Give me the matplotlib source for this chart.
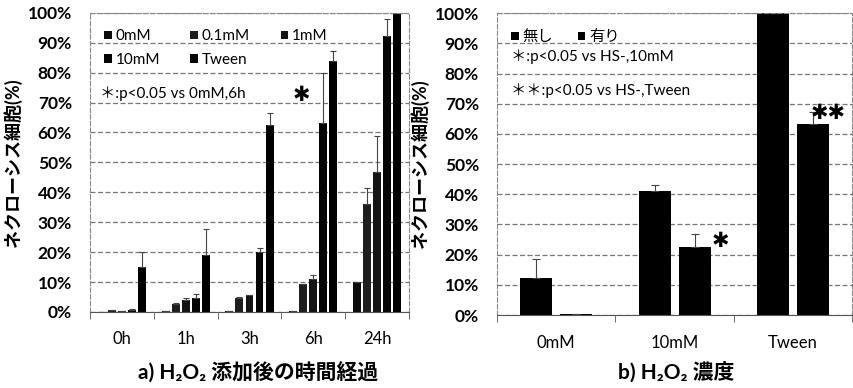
import numpy as np
import matplotlib.pyplot as plt

plt.rcParams['font.family'] = ['Lato', 'Noto Sans CJK JP', 'DejaVu Sans']

# a) time course
times = ['0h', '1h', '3h', '6h', '24h']
doses = ['0mM', '0.1mM', '1mM', '10mM', 'Tween']
vals_a = [
    [0.0, 0.2, 0.3, 0.3, 10.1],     # 0mM
    [0.5, 2.8, 4.8, 9.4, 36.1],     # 0.1mM
    [0.3, 4.0, 5.5, 11.1, 46.9],    # 1mM
    [0.8, 4.7, 20.0, 63.0, 92.3],   # 10mM
    [15.0, 19.0, 62.5, 84.0, 100.0],  # Tween
]
err_a = [
    [0.0, 0.0, 0.0, 0.0, 0.0],
    [0.3, 0.3, 0.3, 0.0, 5.3],
    [0.0, 0.8, 0.0, 1.3, 12.0],
    [0.2, 1.3, 1.5, 16.8, 5.6],
    [5.0, 8.8, 4.0, 3.3, 0.0],
]
colors_a = ['#0c0c0c', '#1e1e1e', '#141414', '#050505', '#000000']

# b) H2O2 concentration
concs = ['0mM', '10mM', 'Tween']
groups_b = ['無し', '有り']
vals_b = [[12.3, 41.0, 100.0], [0.3, 22.7, 63.3]]
err_b = [[6.4, 2.2, 0.0], [0.0, 4.3, 4.0]]

fig = plt.figure(figsize=(8.54, 3.88), dpi=100)
ax1 = fig.add_axes([0.1054, 0.196, 0.3735, 0.771])
ax2 = fig.add_axes([0.582, 0.188, 0.416, 0.778])


def style(ax, n):
    ax.set_ylim(0, 100)
    ax.set_xlim(-0.5, n - 0.5)
    ax.set_yticks(np.arange(0, 101, 10))
    ax.set_yticklabels([f'{v}%' for v in range(0, 101, 10)], fontsize=12.5, fontweight='bold')
    ax.yaxis.grid(True, linestyle=(0, (4, 2)), color='#777777', linewidth=0.9)
    ax.set_axisbelow(True)
    for s in ['left', 'top', 'right']:
        ax.spines[s].set_linestyle((0, (4, 2)))
        ax.spines[s].set_color('#888888')
        ax.spines[s].set_linewidth(0.8)
    ax.spines['bottom'].set_color('#555555')
    ax.tick_params(axis='y', length=0, pad=13)
    ax.set_xticks(np.arange(n))
    ax.set_xticks(np.arange(n + 1) - 0.5, minor=True)
    ax.tick_params(axis='x', which='major', length=0, pad=14, labelsize=12)
    ax.tick_params(axis='x', which='minor', length=5, color='#555555')
    ax.set_ylabel('ネクローシス細胞(%)', fontsize=13, fontweight='bold', labelpad=4)


x = np.arange(len(times))
step = 0.157
bars = []
for i, d in enumerate(doses):
    b = ax1.bar(x + (i - 2) * step, vals_a[i], width=0.125, color=colors_a[i], label=d,
                yerr=[np.zeros(len(times)), err_a[i]], capsize=2.5,
                error_kw=dict(ecolor='#444444', elinewidth=0.8, capthick=0.8))
    bars.append(b)
style(ax1, len(times))
ax1.set_xticklabels(times)
order = [0, 3, 1, 4, 2]  # row-wise legend: 0mM 0.1mM 1mM / 10mM Tween
ax1.legend([bars[k] for k in order], [doses[k] for k in order], loc='upper left', ncol=3,
           frameon=False, prop={'family': ['Lato'], 'size': 11}, handlelength=0.5,
           handleheight=0.5, handletextpad=0.25, columnspacing=2.0, labelspacing=0.6,
           bbox_to_anchor=(0.01, 0.98), borderaxespad=0.3)
ax1.text(0.03, 0.73, '＊:p<0.05 vs 0mM,6h', transform=ax1.transAxes, fontsize=11,
         va='center')
ax1.text(2.82, 72.5, '✱', fontsize=15, family='DejaVu Sans', ha='center', va='center')

xb = np.arange(len(concs))
bars_b = []
for j, g in enumerate(groups_b):
    b = ax2.bar(xb + (j - 0.5) * 0.336, vals_b[j], width=0.27, color='black', label=g,
                yerr=[np.zeros(len(concs)), err_b[j]], capsize=3,
                error_kw=dict(ecolor='#444444', elinewidth=0.8, capthick=0.8))
    bars_b.append(b)
style(ax2, len(concs))
ax2.set_xticklabels(concs)
ax2.legend(bars_b, groups_b, loc='upper left', ncol=2, frameon=False,
           prop={'family': ['Noto Sans CJK JP'], 'size': 11}, handlelength=0.5,
           handleheight=0.5, handletextpad=0.25, columnspacing=1.6,
           bbox_to_anchor=(0.01, 0.985), borderaxespad=0.3)
ax2.text(0.04, 0.855, '＊:p<0.05 vs HS-,10mM', transform=ax2.transAxes, fontsize=11,
         va='center')
ax2.text(0.04, 0.745, '＊＊:p<0.05 vs HS-,Tween', transform=ax2.transAxes, fontsize=11,
         va='center')
ax2.text(1.39, 24.5, '✱', fontsize=15, family='DejaVu Sans', ha='center', va='center')
ax2.text(2.30, 67, '✱✱', fontsize=15, family='DejaVu Sans', ha='center', va='center')

fig.text(0.302, 0.022, 'a) H₂O₂ 添加後の時間経過', fontsize=15, fontweight='bold', ha='center')
fig.text(0.792, 0.022, 'b) H₂O₂ 濃度', fontsize=15, fontweight='bold', ha='center')

fig.savefig('out.png', dpi=100)
